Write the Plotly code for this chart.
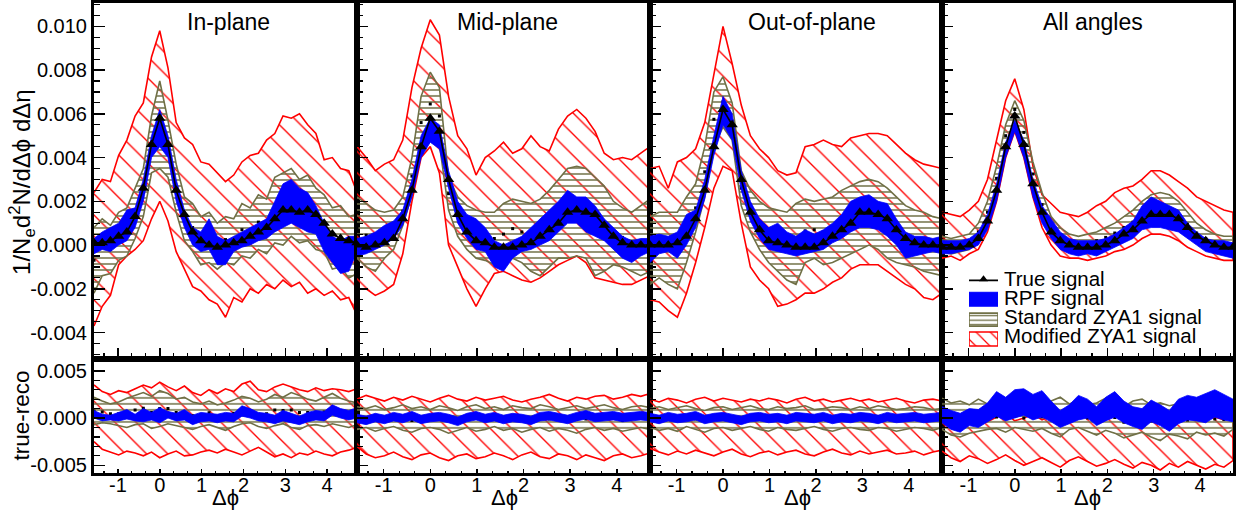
import numpy as np
import plotly.graph_objects as go

# ---------------- data ----------------
PI = np.pi
dphi = np.linspace(-PI / 2, 3 * PI / 2, 33)   # bin positions in delta-phi

panel_titles = ["In-plane", "Mid-plane", "Out-of-plane", "All angles"]
ytop_ticks = [-0.004, -0.002, 0.0, 0.002, 0.004, 0.006, 0.008, 0.010]
ytop_text = ["-0.004", "-0.002", "0.000", "0.002", "0.004", "0.006", "0.008", "0.010"]
ybot_ticks = [-0.005, 0.0, 0.005]
ybot_text = ["-0.005", "0.000", "0.005"]
x_ticks = [-1, 0, 1, 2, 3, 4]
x_text = ["-1", "0", "1", "2", "3", "4"]
legend_labels = ["True signal", "RPF signal", "Standard ZYA1 signal", "Modified ZYA1 signal"]

# ---- In-plane ----
true_in = [0.0001,0.0001,0.0002,0.0004,0.0006,0.0013,0.0026,0.0046,0.0058,0.0046,0.0025,0.0014,0.0006,0.0002,0.0000,-0.0001,0.0000,0.0001,0.0002,0.0004,0.0006,0.0008,0.0012,0.0016,0.0016,0.0015,0.0016,0.0014,0.0010,0.0005,0.0003,0.0002,0.0001]
rpf_in_lo = [-0.0004,-0.0002,-0.0003,0.0000,0.0002,0.0008,0.0020,0.0040,0.0045,0.0040,0.0020,0.0008,0.0000,-0.0003,-0.0002,-0.0009,-0.0009,-0.0003,-0.0001,0.0000,0.0002,0.0003,0.0006,0.0008,0.0010,0.0008,0.0006,0.0005,-0.0003,-0.0008,-0.0013,-0.0012,-0.0003]
rpf_in_hi = [0.0003,0.0006,0.0008,0.0010,0.0016,0.0017,0.0030,0.0050,0.0062,0.0050,0.0030,0.0016,0.0008,0.0006,0.0012,0.0004,0.0002,0.0004,0.0006,0.0008,0.0010,0.0012,0.0020,0.0028,0.0030,0.0026,0.0024,0.0018,0.0010,0.0004,0.0002,0.0004,0.0004]
std_in_lo = [-0.0022,-0.0014,-0.0013,-0.0007,-0.0005,0.0003,0.0013,0.0033,0.0035,0.0031,0.0015,0.0002,-0.0003,-0.0009,-0.0008,-0.0011,-0.0008,-0.0009,-0.0005,-0.0006,-0.0002,-0.0004,0.0001,0.0000,0.0004,0.0001,0.0002,-0.0002,-0.0003,-0.0011,-0.0010,-0.0015,-0.0013]
std_in_hi = [0.0008,0.0012,0.0009,0.0015,0.0017,0.0026,0.0035,0.0059,0.0075,0.0057,0.0037,0.0022,0.0019,0.0013,0.0015,0.0010,0.0013,0.0012,0.0019,0.0017,0.0023,0.0021,0.0031,0.0033,0.0035,0.0030,0.0032,0.0026,0.0023,0.0017,0.0018,0.0013,0.0014]
mod_in_lo = [-0.0037,-0.0028,-0.0023,-0.0009,-0.0005,-0.0002,0.0002,0.0012,0.0020,0.0011,-0.0003,-0.0011,-0.0019,-0.0021,-0.0025,-0.0027,-0.0033,-0.0024,-0.0026,-0.0020,-0.0022,-0.0018,-0.0020,-0.0016,-0.0019,-0.0017,-0.0022,-0.0020,-0.0023,-0.0021,-0.0025,-0.0024,-0.0032]
mod_in_hi = [0.0024,0.0030,0.0029,0.0041,0.0048,0.0059,0.0065,0.0086,0.0098,0.0081,0.0056,0.0049,0.0046,0.0038,0.0037,0.0033,0.0029,0.0032,0.0038,0.0041,0.0042,0.0048,0.0051,0.0059,0.0058,0.0060,0.0055,0.0051,0.0039,0.0040,0.0035,0.0034,0.0024]

# ---- Mid-plane ----
true_mid = [0.0000,-0.0001,0.0000,0.0001,0.0003,0.0012,0.0025,0.0045,0.0058,0.0052,0.0030,0.0014,0.0006,0.0002,0.0001,-0.0001,-0.0001,-0.0001,0.0000,0.0001,0.0004,0.0007,0.0010,0.0015,0.0016,0.0015,0.0014,0.0009,0.0004,0.0001,0.0000,0.0000,0.0000]
rpf_mid_lo = [-0.0005,-0.0004,-0.0002,0.0000,0.0003,0.0009,0.0022,0.0040,0.0047,0.0044,0.0026,0.0010,0.0003,-0.0002,-0.0003,-0.0010,-0.0012,-0.0006,-0.0003,-0.0002,0.0000,0.0002,0.0006,0.0010,0.0010,0.0006,0.0004,0.0002,-0.0002,-0.0006,-0.0008,-0.0005,-0.0003]
rpf_mid_hi = [0.0003,0.0004,0.0006,0.0009,0.0011,0.0016,0.0030,0.0050,0.0058,0.0055,0.0034,0.0020,0.0014,0.0012,0.0008,0.0002,0.0000,0.0002,0.0004,0.0008,0.0012,0.0016,0.0020,0.0025,0.0022,0.0022,0.0018,0.0012,0.0008,0.0004,0.0002,0.0003,0.0003]
std_mid_lo = [-0.0006,-0.0010,-0.0012,-0.0006,-0.0002,0.0009,0.0023,0.0044,0.0050,0.0046,0.0016,0.0004,-0.0002,-0.0006,-0.0007,-0.0009,-0.0009,-0.0006,-0.0008,-0.0012,-0.0014,-0.0010,-0.0006,-0.0006,-0.0005,-0.0006,-0.0014,-0.0012,-0.0009,-0.0010,-0.0012,-0.0014,-0.0012]
std_mid_hi = [0.0022,0.0019,0.0016,0.0015,0.0016,0.0022,0.0040,0.0068,0.0079,0.0072,0.0031,0.0022,0.0018,0.0016,0.0015,0.0015,0.0019,0.0021,0.0020,0.0019,0.0021,0.0025,0.0030,0.0035,0.0036,0.0035,0.0031,0.0027,0.0020,0.0017,0.0015,0.0018,0.0021]
mod_mid_lo = [-0.0020,-0.0020,-0.0023,-0.0021,-0.0018,-0.0004,0.0020,0.0040,0.0045,0.0033,0.0000,-0.0010,-0.0020,-0.0028,-0.0020,-0.0013,-0.0012,-0.0014,-0.0016,-0.0017,-0.0015,-0.0012,-0.0009,-0.0007,-0.0005,-0.0008,-0.0015,-0.0016,-0.0017,-0.0018,-0.0018,-0.0016,-0.0014]
mod_mid_hi = [0.0045,0.0040,0.0034,0.0037,0.0039,0.0048,0.0072,0.0090,0.0103,0.0096,0.0068,0.0050,0.0044,0.0032,0.0040,0.0043,0.0047,0.0042,0.0044,0.0050,0.0045,0.0043,0.0053,0.0059,0.0062,0.0058,0.0052,0.0042,0.0039,0.0040,0.0039,0.0042,0.0045]

# ---- Out-of-plane ----
true_out = [0.0000,0.0000,0.0000,0.0001,0.0004,0.0012,0.0025,0.0045,0.0062,0.0055,0.0030,0.0015,0.0007,0.0002,0.0001,0.0000,-0.0001,-0.0001,-0.0001,0.0001,0.0004,0.0007,0.0010,0.0015,0.0015,0.0014,0.0012,0.0007,0.0003,0.0001,0.0000,0.0000,0.0000]
rpf_out_lo = [-0.0008,-0.0004,-0.0003,-0.0006,0.0000,0.0008,0.0021,0.0041,0.0055,0.0048,0.0025,0.0011,0.0003,-0.0002,-0.0003,-0.0004,-0.0005,-0.0004,-0.0003,-0.0002,0.0001,0.0003,0.0006,0.0008,0.0008,0.0007,0.0004,0.0000,-0.0006,-0.0005,-0.0004,-0.0003,-0.0004]
rpf_out_hi = [0.0004,0.0005,0.0004,0.0006,0.0014,0.0016,0.0030,0.0050,0.0068,0.0060,0.0034,0.0020,0.0012,0.0008,0.0010,0.0006,0.0004,0.0007,0.0005,0.0007,0.0010,0.0014,0.0020,0.0022,0.0023,0.0020,0.0019,0.0012,0.0006,0.0004,0.0004,0.0003,0.0004]
std_out_lo = [-0.0018,-0.0015,-0.0018,-0.0020,-0.0008,0.0006,0.0022,0.0045,0.0054,0.0048,0.0018,0.0006,-0.0002,-0.0008,-0.0012,-0.0016,-0.0018,-0.0008,-0.0006,-0.0009,-0.0008,-0.0006,-0.0004,-0.0002,0.0000,-0.0002,-0.0006,-0.0008,-0.0009,-0.0010,-0.0012,-0.0013,-0.0014]
std_out_hi = [0.0013,0.0015,0.0015,0.0015,0.0022,0.0028,0.0045,0.0070,0.0077,0.0065,0.0034,0.0025,0.0020,0.0017,0.0016,0.0015,0.0019,0.0021,0.0020,0.0021,0.0022,0.0025,0.0027,0.0029,0.0030,0.0029,0.0026,0.0022,0.0018,0.0016,0.0015,0.0013,0.0012]
mod_out_lo = [-0.0025,-0.0026,-0.0030,-0.0033,-0.0022,-0.0008,0.0008,0.0026,0.0036,0.0034,0.0010,-0.0010,-0.0016,-0.0020,-0.0028,-0.0027,-0.0025,-0.0022,-0.0022,-0.0020,-0.0017,-0.0015,-0.0011,-0.0009,-0.0009,-0.0009,-0.0012,-0.0015,-0.0018,-0.0020,-0.0024,-0.0025,-0.0022]
mod_out_hi = [0.0035,0.0036,0.0026,0.0038,0.0040,0.0044,0.0056,0.0078,0.0100,0.0083,0.0064,0.0050,0.0044,0.0040,0.0034,0.0032,0.0033,0.0045,0.0046,0.0048,0.0046,0.0045,0.0049,0.0050,0.0051,0.0051,0.0050,0.0046,0.0042,0.0039,0.0037,0.0036,0.0035]

# ---- All angles ----
true_all = [-0.0001,-0.0001,-0.0001,0.0000,0.0003,0.0011,0.0025,0.0045,0.0059,0.0046,0.0028,0.0015,0.0006,0.0002,0.0000,-0.0001,-0.0001,-0.0001,0.0000,0.0002,0.0005,0.0007,0.0011,0.0014,0.0014,0.0014,0.0012,0.0008,0.0004,0.0002,0.0000,-0.0001,-0.0001]
rpf_all_lo = [-0.0004,-0.0004,-0.0003,-0.0002,0.0000,0.0007,0.0020,0.0040,0.0052,0.0040,0.0022,0.0010,0.0003,-0.0002,-0.0004,-0.0005,-0.0004,-0.0005,-0.0003,-0.0001,0.0001,0.0003,0.0007,0.0008,0.0008,0.0007,0.0006,0.0003,0.0000,-0.0003,-0.0004,-0.0005,-0.0006]
rpf_all_hi = [0.0002,0.0002,0.0002,0.0003,0.0006,0.0014,0.0028,0.0047,0.0057,0.0048,0.0030,0.0018,0.0012,0.0006,0.0003,0.0002,0.0002,0.0002,0.0003,0.0005,0.0008,0.0011,0.0018,0.0022,0.0020,0.0018,0.0016,0.0010,0.0006,0.0003,0.0002,0.0002,0.0001]
std_all_lo = [-0.0003,-0.0004,-0.0003,-0.0002,0.0002,0.0010,0.0025,0.0045,0.0058,0.0046,0.0027,0.0013,0.0004,0.0000,-0.0002,-0.0003,-0.0003,-0.0002,-0.0001,0.0001,0.0003,0.0005,0.0008,0.0010,0.0010,0.0009,0.0007,0.0004,0.0001,-0.0001,-0.0002,-0.0003,-0.0003]
std_all_hi = [0.0004,0.0003,0.0004,0.0005,0.0010,0.0020,0.0036,0.0055,0.0066,0.0057,0.0038,0.0024,0.0013,0.0008,0.0005,0.0004,0.0005,0.0006,0.0008,0.0010,0.0013,0.0016,0.0020,0.0023,0.0024,0.0023,0.0020,0.0015,0.0010,0.0007,0.0005,0.0004,0.0004]
mod_all_lo = [-0.0006,-0.0005,-0.0007,-0.0004,-0.0002,0.0006,0.0020,0.0040,0.0052,0.0040,0.0022,0.0008,0.0000,-0.0005,-0.0006,-0.0006,-0.0007,-0.0006,-0.0005,-0.0003,-0.0002,0.0000,0.0003,0.0005,0.0005,0.0004,0.0002,-0.0001,-0.0003,-0.0005,-0.0006,-0.0007,-0.0007]
mod_all_hi = [0.0015,0.0014,0.0013,0.0016,0.0020,0.0030,0.0048,0.0066,0.0076,0.0062,0.0036,0.0023,0.0019,0.0015,0.0014,0.0013,0.0015,0.0018,0.0020,0.0024,0.0026,0.0027,0.0030,0.0034,0.0034,0.0032,0.0029,0.0026,0.0022,0.0020,0.0018,0.0016,0.0015]

# ---- true - reco (lower row) ----
d_rpf_in_lo = [0.0000,-0.0003,-0.0002,-0.0003,-0.0001,-0.0003,-0.0004,-0.0002,-0.0005,0.0000,-0.0003,-0.0002,-0.0007,-0.0004,-0.0003,-0.0005,-0.0003,-0.0004,0.0002,0.0000,-0.0003,-0.0004,-0.0006,-0.0003,-0.0005,-0.0007,-0.0004,-0.0002,-0.0003,0.0003,0.0000,-0.0002,0.0000]
d_rpf_in_hi = [0.0008,0.0004,0.0003,0.0006,0.0009,0.0004,0.0010,0.0006,0.0011,0.0007,0.0005,0.0009,0.0003,0.0006,0.0005,0.0004,0.0006,0.0005,0.0013,0.0010,0.0006,0.0005,0.0003,0.0008,0.0005,0.0002,0.0006,0.0008,0.0007,0.0014,0.0010,0.0008,0.0011]
d_std_in_lo = [-0.0007,-0.0005,-0.0006,-0.0008,-0.0010,-0.0007,-0.0006,-0.0011,-0.0009,-0.0006,-0.0008,-0.0010,-0.0012,-0.0009,-0.0007,-0.0010,-0.0013,-0.0009,-0.0006,-0.0005,-0.0009,-0.0011,-0.0008,-0.0006,-0.0010,-0.0012,-0.0008,-0.0007,-0.0009,-0.0006,-0.0008,-0.0010,-0.0007]
d_std_in_hi = [0.0022,0.0018,0.0015,0.0017,0.0021,0.0024,0.0027,0.0023,0.0029,0.0026,0.0020,0.0022,0.0017,0.0015,0.0018,0.0014,0.0016,0.0019,0.0023,0.0021,0.0017,0.0020,0.0025,0.0022,0.0027,0.0024,0.0020,0.0018,0.0022,0.0026,0.0021,0.0018,0.0016]
d_mod_in_lo = [-0.0025,-0.0033,-0.0036,-0.0039,-0.0035,-0.0037,-0.0040,-0.0036,-0.0042,-0.0038,-0.0035,-0.0040,-0.0039,-0.0036,-0.0034,-0.0037,-0.0033,-0.0036,-0.0039,-0.0035,-0.0031,-0.0036,-0.0041,-0.0038,-0.0042,-0.0037,-0.0039,-0.0035,-0.0038,-0.0040,-0.0036,-0.0034,-0.0031]
d_mod_in_hi = [0.0035,0.0028,0.0025,0.0029,0.0027,0.0031,0.0035,0.0032,0.0038,0.0033,0.0029,0.0034,0.0027,0.0024,0.0030,0.0026,0.0031,0.0028,0.0036,0.0039,0.0030,0.0028,0.0033,0.0036,0.0033,0.0030,0.0028,0.0032,0.0029,0.0031,0.0030,0.0028,0.0031]

d_rpf_mid_lo = [-0.0005,-0.0007,-0.0004,-0.0006,-0.0003,-0.0005,-0.0002,-0.0006,-0.0004,-0.0003,-0.0005,-0.0008,-0.0004,-0.0002,-0.0005,-0.0003,-0.0006,-0.0004,-0.0005,-0.0007,-0.0003,-0.0002,-0.0004,-0.0006,-0.0003,-0.0001,-0.0004,-0.0003,-0.0002,-0.0004,-0.0003,-0.0002,-0.0003]
d_rpf_mid_hi = [0.0004,0.0002,0.0005,0.0003,0.0006,0.0004,0.0007,0.0003,0.0005,0.0006,0.0004,0.0001,0.0005,0.0007,0.0004,0.0006,0.0003,0.0005,0.0004,0.0002,0.0006,0.0007,0.0005,0.0003,0.0006,0.0008,0.0005,0.0006,0.0007,0.0005,0.0006,0.0007,0.0006]
d_std_mid_lo = [-0.0012,-0.0010,-0.0014,-0.0011,-0.0009,-0.0013,-0.0015,-0.0011,-0.0010,-0.0012,-0.0016,-0.0013,-0.0010,-0.0014,-0.0012,-0.0009,-0.0013,-0.0011,-0.0015,-0.0012,-0.0010,-0.0014,-0.0011,-0.0013,-0.0016,-0.0012,-0.0010,-0.0013,-0.0011,-0.0014,-0.0012,-0.0010,-0.0012]
d_std_mid_hi = [0.0012,0.0010,0.0013,0.0009,0.0011,0.0014,0.0010,0.0012,0.0009,0.0013,0.0011,0.0008,0.0012,0.0014,0.0010,0.0012,0.0009,0.0013,0.0011,0.0010,0.0014,0.0012,0.0009,0.0011,0.0013,0.0010,0.0012,0.0014,0.0011,0.0009,0.0012,0.0013,0.0011]
d_mod_mid_lo = [-0.0030,-0.0038,-0.0042,-0.0040,-0.0036,-0.0041,-0.0044,-0.0039,-0.0037,-0.0042,-0.0045,-0.0040,-0.0038,-0.0043,-0.0041,-0.0037,-0.0040,-0.0044,-0.0039,-0.0036,-0.0041,-0.0043,-0.0038,-0.0040,-0.0044,-0.0039,-0.0042,-0.0045,-0.0040,-0.0038,-0.0042,-0.0040,-0.0037]
d_mod_mid_hi = [0.0020,0.0024,0.0021,0.0018,0.0022,0.0019,0.0023,0.0020,0.0017,0.0021,0.0024,0.0020,0.0018,0.0022,0.0019,0.0021,0.0023,0.0019,0.0017,0.0020,0.0022,0.0025,0.0021,0.0018,0.0022,0.0020,0.0023,0.0024,0.0020,0.0022,0.0025,0.0023,0.0026]

d_rpf_out_lo = [-0.0004,-0.0006,-0.0003,-0.0005,-0.0004,-0.0002,-0.0006,-0.0004,-0.0003,-0.0005,-0.0007,-0.0004,-0.0003,-0.0005,-0.0004,-0.0006,-0.0003,-0.0004,-0.0005,-0.0003,-0.0006,-0.0004,-0.0005,-0.0003,-0.0004,-0.0006,-0.0003,-0.0005,-0.0004,-0.0003,-0.0005,-0.0004,-0.0003]
d_rpf_out_hi = [0.0005,0.0003,0.0006,0.0004,0.0005,0.0007,0.0003,0.0005,0.0006,0.0004,0.0002,0.0005,0.0006,0.0004,0.0005,0.0003,0.0006,0.0005,0.0004,0.0006,0.0003,0.0005,0.0004,0.0006,0.0005,0.0003,0.0006,0.0004,0.0005,0.0006,0.0004,0.0005,0.0006]
d_std_out_lo = [-0.0010,-0.0013,-0.0011,-0.0014,-0.0009,-0.0012,-0.0015,-0.0011,-0.0010,-0.0013,-0.0011,-0.0009,-0.0012,-0.0014,-0.0010,-0.0012,-0.0013,-0.0011,-0.0009,-0.0012,-0.0014,-0.0011,-0.0010,-0.0012,-0.0013,-0.0010,-0.0011,-0.0014,-0.0012,-0.0010,-0.0011,-0.0013,-0.0010]
d_std_out_hi = [0.0010,0.0012,0.0009,0.0011,0.0013,0.0010,0.0008,0.0011,0.0012,0.0009,0.0011,0.0013,0.0010,0.0009,0.0012,0.0010,0.0011,0.0013,0.0009,0.0010,0.0012,0.0011,0.0009,0.0012,0.0010,0.0013,0.0011,0.0009,0.0010,0.0012,0.0011,0.0009,0.0010]
d_mod_out_lo = [-0.0032,-0.0036,-0.0039,-0.0035,-0.0038,-0.0034,-0.0037,-0.0040,-0.0036,-0.0033,-0.0038,-0.0041,-0.0037,-0.0035,-0.0039,-0.0036,-0.0034,-0.0038,-0.0040,-0.0036,-0.0033,-0.0037,-0.0039,-0.0035,-0.0038,-0.0036,-0.0034,-0.0038,-0.0037,-0.0035,-0.0039,-0.0036,-0.0034]
d_mod_out_hi = [0.0020,0.0017,0.0021,0.0019,0.0016,0.0020,0.0022,0.0018,0.0021,0.0019,0.0017,0.0020,0.0018,0.0021,0.0019,0.0016,0.0020,0.0022,0.0018,0.0020,0.0017,0.0019,0.0021,0.0018,0.0020,0.0017,0.0019,0.0021,0.0018,0.0016,0.0019,0.0020,0.0018]

d_rpf_all_lo = [-0.0005,-0.0012,-0.0015,-0.0008,-0.0010,-0.0004,0.0002,-0.0003,0.0000,0.0003,-0.0002,0.0001,-0.0004,-0.0010,-0.0006,-0.0002,0.0000,-0.0008,-0.0003,0.0001,-0.0005,-0.0009,-0.0012,-0.0004,-0.0008,-0.0014,-0.0006,-0.0002,-0.0003,-0.0005,0.0001,-0.0002,-0.0004]
d_rpf_all_hi = [0.0012,0.0008,0.0005,0.0010,0.0009,0.0016,0.0028,0.0022,0.0030,0.0031,0.0025,0.0029,0.0018,0.0008,0.0014,0.0024,0.0020,0.0012,0.0022,0.0028,0.0018,0.0012,0.0010,0.0019,0.0014,0.0008,0.0020,0.0024,0.0022,0.0026,0.0030,0.0025,0.0020]
d_std_all_lo = [-0.0012,-0.0018,-0.0020,-0.0016,-0.0014,-0.0012,-0.0011,-0.0015,-0.0010,-0.0012,-0.0014,-0.0011,-0.0016,-0.0020,-0.0012,-0.0010,-0.0014,-0.0018,-0.0013,-0.0016,-0.0021,-0.0018,-0.0015,-0.0020,-0.0024,-0.0017,-0.0019,-0.0022,-0.0015,-0.0018,-0.0016,-0.0019,-0.0012]
d_std_all_hi = [0.0021,0.0016,0.0018,0.0014,0.0020,0.0015,0.0013,0.0017,0.0014,0.0012,0.0016,0.0013,0.0018,0.0022,0.0015,0.0019,0.0014,0.0016,0.0021,0.0017,0.0012,0.0018,0.0020,0.0014,0.0016,0.0013,0.0015,0.0018,0.0013,0.0017,0.0014,0.0016,0.0018]
d_mod_all_lo = [-0.0035,-0.0042,-0.0046,-0.0040,-0.0043,-0.0048,-0.0044,-0.0039,-0.0045,-0.0050,-0.0046,-0.0042,-0.0047,-0.0052,-0.0045,-0.0041,-0.0046,-0.0051,-0.0048,-0.0044,-0.0049,-0.0053,-0.0047,-0.0050,-0.0055,-0.0048,-0.0052,-0.0046,-0.0050,-0.0054,-0.0049,-0.0052,-0.0045]
d_mod_all_hi = [0.0010,0.0004,-0.0002,0.0006,0.0002,-0.0004,0.0001,0.0005,-0.0003,0.0000,0.0004,-0.0002,0.0003,0.0006,-0.0001,0.0002,0.0005,-0.0003,0.0001,0.0004,-0.0002,0.0003,0.0006,0.0000,-0.0004,0.0002,0.0005,-0.0001,0.0003,0.0006,0.0001,-0.0002,0.0008]

top_sets = [
    (true_in, rpf_in_lo, rpf_in_hi, std_in_lo, std_in_hi, mod_in_lo, mod_in_hi),
    (true_mid, rpf_mid_lo, rpf_mid_hi, std_mid_lo, std_mid_hi, mod_mid_lo, mod_mid_hi),
    (true_out, rpf_out_lo, rpf_out_hi, std_out_lo, std_out_hi, mod_out_lo, mod_out_hi),
    (true_all, rpf_all_lo, rpf_all_hi, std_all_lo, std_all_hi, mod_all_lo, mod_all_hi),
]
bot_sets = [
    (d_rpf_in_lo, d_rpf_in_hi, d_std_in_lo, d_std_in_hi, d_mod_in_lo, d_mod_in_hi),
    (d_rpf_mid_lo, d_rpf_mid_hi, d_std_mid_lo, d_std_mid_hi, d_mod_mid_lo, d_mod_mid_hi),
    (d_rpf_out_lo, d_rpf_out_hi, d_std_out_lo, d_std_out_hi, d_mod_out_lo, d_mod_out_hi),
    (d_rpf_all_lo, d_rpf_all_hi, d_std_all_lo, d_std_all_hi, d_mod_all_lo, d_mod_all_hi),
]

# ---------------- styling / layout ----------------
RED = "#ff0000"
OLIVE = "#707046"
BLUE = "#0000ff"
FONT = "Liberation Sans, Arial, Helvetica, sans-serif"
W, H = 1242, 514
xpix = [(94, 357), (357, 650), (650, 942), (942, 1233)]
top_px = (3, 361)
bot_px = (361, 476)
TOP_RANGE = [-0.005205, 0.011068]
BOT_RANGE = [-0.005842, 0.006263]


def px_x(p):
    return p / W


def px_y(p):
    return 1 - p / H


def ax_names(n):
    s = "" if n == 1 else str(n)
    return "x" + s, "y" + s


fig = go.Figure()


def poly(lo, hi):
    xs = list(dphi) + list(dphi[::-1])
    ys = list(hi) + list(lo)[::-1]
    return xs, ys


RED_HATCH = dict(shape="\\", fgcolor=RED, bgcolor="rgba(0,0,0,0)", fgopacity=1,
                 size=15, solidity=0.09)
OLIVE_HATCH = dict(shape="-", fgcolor=OLIVE, bgcolor="rgba(0,0,0,0)", fgopacity=1,
                   size=6, solidity=0.25)


def add_bands(n, rlo, rhi, slo, shi, mlo, mhi, dots=True):
    xa, ya = ax_names(n)
    xs, ys = poly(mlo, mhi)
    fig.add_trace(go.Scatter(
        x=xs, y=ys, mode="lines", fill="toself", xaxis=xa, yaxis=ya,
        line=dict(color=RED, width=1.6), fillcolor="rgba(0,0,0,0)",
        fillpattern=RED_HATCH, showlegend=False, hoverinfo="skip"))
    xs, ys = poly(slo, shi)
    fig.add_trace(go.Scatter(
        x=xs, y=ys, mode="lines", fill="toself", xaxis=xa, yaxis=ya,
        line=dict(color=OLIVE, width=1.6), fillcolor="rgba(0,0,0,0)",
        fillpattern=OLIVE_HATCH, showlegend=False, hoverinfo="skip"))
    if dots:
        mid = [(a + b) / 2 for a, b in zip(slo, shi)]
        fig.add_trace(go.Scatter(
            x=dphi, y=mid, mode="markers", xaxis=xa, yaxis=ya,
            marker=dict(symbol="square", size=3, color="black"),
            showlegend=False, hoverinfo="skip"))
    xs, ys = poly(rlo, rhi)
    fig.add_trace(go.Scatter(
        x=xs, y=ys, mode="lines", fill="toself", xaxis=xa, yaxis=ya,
        line=dict(color=BLUE, width=0.8), fillcolor=BLUE,
        showlegend=False, hoverinfo="skip"))


for i in range(4):
    tr, rlo, rhi, slo, shi, mlo, mhi = top_sets[i]
    add_bands(i + 1, rlo, rhi, slo, shi, mlo, mhi)
    xa, ya = ax_names(i + 1)
    fig.add_trace(go.Scatter(
        x=dphi, y=tr, mode="lines+markers", xaxis=xa, yaxis=ya,
        line=dict(color="black", width=1.6),
        marker=dict(symbol="triangle-up", size=10, color="black"),
        showlegend=False, hoverinfo="skip"))
    b = bot_sets[i]
    add_bands(i + 5, b[0], b[1], b[2], b[3], b[4], b[5])

layout = dict(
    width=W, height=H, margin=dict(l=0, r=0, t=0, b=0), autosize=False,
    paper_bgcolor="white", plot_bgcolor="white", showlegend=False,
    font=dict(family=FONT, size=20, color="black"),
)

for i in range(4):
    for row in (0, 1):
        n = i + 1 + 4 * row
        s = "" if n == 1 else str(n)
        x0, x1 = xpix[i]
        ypx = top_px if row == 0 else bot_px
        layout["xaxis" + s] = dict(
            domain=[px_x(x0), px_x(x1)], range=[-PI / 2, 3 * PI / 2],
            anchor="y" + s, showgrid=False, zeroline=False,
            showline=True, linecolor="black", linewidth=3, mirror=True,
            ticks="inside", ticklen=(11 if row == 0 else 4), tickwidth=1.5,
            tickcolor="black", tickvals=x_ticks, ticktext=x_text,
            showticklabels=(row == 1), tickfont=dict(size=20, family=FONT),
            ticklabelstandoff=-8,
            minor=dict(dtick=1 / 3, tick0=0, ticks="inside",
                       ticklen=(6 if row == 0 else 2), tickwidth=1.2, tickcolor="black"),
            fixedrange=True)
        layout["yaxis" + s] = dict(
            domain=[px_y(ypx[1]), px_y(ypx[0])],
            range=TOP_RANGE if row == 0 else BOT_RANGE,
            anchor="x" + s, showgrid=False, zeroline=False,
            showline=True, linecolor="black", linewidth=3, mirror=True,
            ticks="inside", ticklen=11, tickwidth=1.5, tickcolor="black",
            tickvals=ytop_ticks if row == 0 else ybot_ticks,
            ticktext=ytop_text if row == 0 else ybot_text,
            showticklabels=(i == 0), tickfont=dict(size=20, family=FONT),
            minor=dict(dtick=(0.0005 if row == 0 else 0.001), tick0=0, ticks="inside",
                       ticklen=6, tickwidth=1.2, tickcolor="black"),
            fixedrange=True)

# legend key area (its own hidden axes)
layout["xaxis9"] = dict(domain=[px_x(969), px_x(998)], range=[0, 1], visible=False,
                        anchor="y9", fixedrange=True)
layout["yaxis9"] = dict(domain=[px_y(350), px_y(270)], range=[0, 4], visible=False,
                        anchor="x9", fixedrange=True)
fig.update_layout(**layout)

# legend keys
fig.add_trace(go.Scatter(x=[0, 1], y=[3.4, 3.4], mode="lines", xaxis="x9", yaxis="y9",
                         line=dict(color="black", width=1.6), showlegend=False, hoverinfo="skip"))
fig.add_trace(go.Scatter(x=[0.5], y=[3.45], mode="markers", xaxis="x9", yaxis="y9",
                         marker=dict(symbol="triangle-up", size=8, color="black"),
                         showlegend=False, hoverinfo="skip"))
kx = [0.0, 1.0, 1.0, 0.0, 0.0]
fig.add_trace(go.Scatter(x=kx, y=[2.1, 2.1, 2.8, 2.8, 2.1], mode="lines", fill="toself",
                         xaxis="x9", yaxis="y9", line=dict(color=BLUE, width=1), fillcolor=BLUE,
                         showlegend=False, hoverinfo="skip"))
fig.add_trace(go.Scatter(x=kx, y=[1.1, 1.1, 1.75, 1.75, 1.1], mode="lines", fill="toself",
                         xaxis="x9", yaxis="y9", line=dict(color=OLIVE, width=1.6),
                         fillcolor="rgba(0,0,0,0)",
                         fillpattern=dict(shape="-", fgcolor=OLIVE, bgcolor="rgba(0,0,0,0)",
                                          fgopacity=1, size=4.5, solidity=0.3),
                         showlegend=False, hoverinfo="skip"))
fig.add_trace(go.Scatter(x=kx, y=[0.1, 0.1, 0.8, 0.8, 0.1], mode="lines", fill="toself",
                         xaxis="x9", yaxis="y9", line=dict(color=RED, width=1.6),
                         fillcolor="rgba(0,0,0,0)",
                         fillpattern=dict(shape="\\", fgcolor=RED, bgcolor="rgba(0,0,0,0)",
                                          fgopacity=1, size=10, solidity=0.12),
                         showlegend=False, hoverinfo="skip"))

ann = []
for lab, ypos in zip(legend_labels, [280, 299, 318, 337]):
    ann.append(dict(text=lab, x=px_x(1002), y=px_y(ypos), xref="paper", yref="paper",
                    xanchor="left", yanchor="middle", showarrow=False,
                    font=dict(size=20.5, family=FONT)))
for lab, cx in zip(panel_titles, [228, 507, 812, 1093]):
    ann.append(dict(text=lab, x=px_x(cx), y=px_y(22), xref="paper", yref="paper",
                    xanchor="center", yanchor="middle", showarrow=False,
                    font=dict(size=23, family=FONT)))
for cx in [225, 505, 797, 1087]:
    ann.append(dict(text="Δϕ", x=px_x(cx), y=px_y(500), xref="paper", yref="paper",
                    xanchor="center", yanchor="middle", showarrow=False,
                    font=dict(size=22, family=FONT)))
ann.append(dict(text="1/N<sub>e</sub>d<sup>2</sup>N/dΔϕ dΔη", x=px_x(22), y=px_y(183),
                xref="paper", yref="paper", xanchor="center", yanchor="middle",
                textangle=-90, showarrow=False, font=dict(size=24, family=FONT)))
ann.append(dict(text="true-reco", x=px_x(22), y=px_y(418),
                xref="paper", yref="paper", xanchor="center", yanchor="middle",
                textangle=-90, showarrow=False, font=dict(size=22.5, family=FONT)))
fig.update_layout(annotations=ann)

fig.write_html("out.html", config={"displayModeBar": False, "staticPlot": True},
               post_script="document.body.style.margin='0px';document.body.style.overflow='hidden';")
